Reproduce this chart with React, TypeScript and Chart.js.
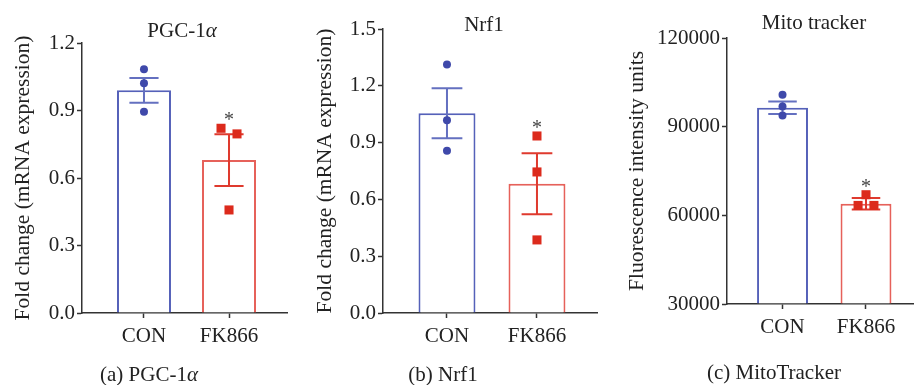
import React, { useEffect, useRef } from 'react';
import { Chart, registerables } from 'chart.js';

Chart.register(...registerables);

// ---------- data ----------
const categories = ['CON', 'FK866'];

const pgcMeans = [0.99, 0.68];
const pgcSem = [0.055, 0.115];
const pgcConPoints = [1.083, 1.021, 0.895];
const pgcFkPoints = [0.821, 0.796, 0.458];
const pgcTicks = [0, 0.3, 0.6, 0.9, 1.2];

const nrfMeans = [1.055, 0.683];
const nrfSem = [0.132, 0.161];
const nrfConPoints = [1.313, 1.018, 0.857];
const nrfFkPoints = [0.935, 0.745, 0.386];
const nrfTicks = [0, 0.3, 0.6, 0.9, 1.2, 1.5];

const mitoMeans = [96400, 63920];
const mitoSem = [2100, 1930];
const mitoConPoints = [100800, 96830, 93790];
const mitoFkPoints = [66970, 63350, 63350];
const mitoTicks = [30000, 60000, 90000, 120000];

const significance = ['', '*'];

// ---------- styles ----------
const FONT = "'Liberation Serif', 'Times New Roman', serif";
const TEXT = '#222222';
const AXIS = '#333333';
const BAR_COLORS = ['#5561b9', '#e6615a'];
const ERR_COLORS = ['#6470c0', '#df3a2e'];
const PT_BLUE = '#3f49aa';
const PT_RED = '#dc2a1c';
const FS = 21;

type Panel = {
  key: string;
  left: number;
  width: number;
  top: number;
  right: number;
  yWidth: number;
  xHeight: number;
  xMin: number;
  xMax: number;
  barPct: number;
  capFrac: number;
  yTitle: string;
  yTitlePad: number;
  yMin: number;
  yMax: number;
  ticks: number[];
  fmt: (v: number) => string;
  means: number[];
  sem: number[];
  conPoints: number[];
  fkPoints: number[];
  conJitter: number[];
  fkJitter: number[];
  base: number;
  title: { parts: [string, boolean][]; x: number; y: number };
  caption: { parts: [string, boolean][]; x: number; y: number };
};

const panels: Panel[] = [
  {
    key: 'a', left: 0, width: 300, top: 43, right: 13, yWidth: 82, xHeight: 72,
    xMin: -0.729, xMax: 1.682, barPct: 0.635, capFrac: 0.54,
    yTitle: 'Fold change (mRNA expression)', yTitlePad: 10,
    yMin: 0, yMax: 1.2, ticks: pgcTicks, fmt: (v) => v.toFixed(1),
    means: pgcMeans, sem: pgcSem, conPoints: pgcConPoints, fkPoints: pgcFkPoints,
    conJitter: [0, 0, 0], fkJitter: [-0.094, 0.094, 0], base: 0,
    title: { parts: [['PGC-1', false], ['α', true]], x: 182, y: 31 },
    caption: { parts: [['(a) PGC-1', false], ['α', true]], x: 149, y: 375 },
  },
  {
    key: 'b', left: 300, width: 305, top: 29, right: 8, yWidth: 83, xHeight: 72,
    xMin: -0.711, xMax: 1.667, barPct: 0.633, capFrac: 0.54,
    yTitle: 'Fold change (mRNA expression)', yTitlePad: 12,
    yMin: 0, yMax: 1.5, ticks: nrfTicks, fmt: (v) => v.toFixed(1),
    means: nrfMeans, sem: nrfSem, conPoints: nrfConPoints, fkPoints: nrfFkPoints,
    conJitter: [0, 0, 0], fkJitter: [0, 0, 0], base: 0,
    title: { parts: [['Nrf1', false]], x: 184, y: 25 },
    caption: { parts: [['(b) Nrf1', false]], x: 143, y: 375 },
  },
  {
    key: 'c', left: 605, width: 309, top: 38, right: 0, yWidth: 122, xHeight: 81,
    xMin: -0.665, xMax: 1.575, barPct: 0.61, capFrac: 0.56,
    yTitle: 'Fluorescence intensity units', yTitlePad: 19,
    yMin: 30000, yMax: 120000, ticks: mitoTicks, fmt: (v) => String(v),
    means: mitoMeans, sem: mitoSem, conPoints: mitoConPoints, fkPoints: mitoFkPoints,
    conJitter: [0, 0, 0], fkJitter: [0, -0.095, 0.095], base: 30000,
    title: { parts: [['Mito tracker', false]], x: 209, y: 23 },
    caption: { parts: [['(c) MitoTracker', false]], x: 169, y: 373 },
  },
];

function drawParts(ctx: CanvasRenderingContext2D, parts: [string, boolean][], cx: number, cy: number) {
  ctx.save();
  ctx.fillStyle = TEXT;
  ctx.textBaseline = 'middle';
  ctx.textAlign = 'left';
  const widths = parts.map(([t, it]) => {
    ctx.font = `${it ? 'italic ' : ''}${FS}px ${FONT}`;
    return ctx.measureText(t).width;
  });
  const total = widths.reduce((a, b) => a + b, 0);
  let x = cx - total / 2;
  parts.forEach(([t, it], i) => {
    ctx.font = `${it ? 'italic ' : ''}${FS}px ${FONT}`;
    ctx.fillText(t, x, cy);
    x += widths[i];
  });
  ctx.restore();
}

function makeExtras(p: Panel) {
  return {
    id: 'extras_' + p.key,
    afterDatasetDraw(chart: any, args: any) {
      if (args.meta.type !== 'bar') return;
      const ctx = chart.ctx as CanvasRenderingContext2D;
      const xs = chart.scales.x;
      const ys = chart.scales.y;
      ctx.save();
      ctx.lineWidth = 2;
      categories.forEach((_, i) => {
        const bar = args.meta.data[i];
        const x = xs.getPixelForValue(i);
        const yt = ys.getPixelForValue(p.means[i] + p.sem[i]);
        const yb = ys.getPixelForValue(p.means[i] - p.sem[i]);
        const half = (bar.width * p.capFrac) / 2;
        ctx.strokeStyle = ERR_COLORS[i];
        ctx.beginPath();
        ctx.moveTo(x, yt);
        ctx.lineTo(x, yb);
        ctx.moveTo(x - half, yt);
        ctx.lineTo(x + half, yt);
        ctx.moveTo(x - half, yb);
        ctx.lineTo(x + half, yb);
        ctx.stroke();
      });
      ctx.restore();
    },
    afterDraw(chart: any) {
      const ctx = chart.ctx as CanvasRenderingContext2D;
      const xs = chart.scales.x;
      const ys = chart.scales.y;
      const pts = [p.conPoints, p.fkPoints];
      significance.forEach((s, i) => {
        if (!s) return;
        const topVal = Math.max(p.means[i] + p.sem[i], ...pts[i]);
        const y = ys.getPixelForValue(topVal) - 13;
        ctx.save();
        ctx.fillStyle = '#444444';
        ctx.font = `20px ${FONT}`;
        ctx.textAlign = 'center';
        ctx.textBaseline = 'alphabetic';
        ctx.fillText(s, xs.getPixelForValue(i), y + 11);
        ctx.restore();
      });
      drawParts(ctx, p.title.parts, p.title.x, p.title.y);
      drawParts(ctx, p.caption.parts, p.caption.x, p.caption.y);
    },
  };
}

function makeChart(canvas: HTMLCanvasElement, p: Panel) {
  const font = { family: FONT, size: FS, lineHeight: 1.2 };
  const titleFont = { family: FONT, size: 21.5, lineHeight: 1.2 };
  const gridY = {
    display: true,
    drawOnChartArea: false,
    drawTicks: true,
    tickLength: 5,
    tickWidth: 1.5,
    tickColor: AXIS,
    offset: false,
  };
  const gridX = { ...gridY };
  const border = { display: true, color: AXIS, width: 1.5 };
  return new Chart(canvas, {
    type: 'bar',
    data: {
      datasets: [
        {
          type: 'bar',
          data: categories.map((_, i) => ({ x: i, y: p.means[i] })),
          backgroundColor: '#ffffff',
          borderColor: BAR_COLORS,
          borderWidth: 2,
          barPercentage: p.barPct,
          categoryPercentage: 1,
          base: p.base,
          order: 3,
        } as any,
        {
          type: 'scatter',
          data: p.conPoints.map((v, k) => ({ x: 0 + p.conJitter[k], y: v })),
          pointStyle: 'circle',
          pointRadius: 4,
          backgroundColor: PT_BLUE,
          borderColor: PT_BLUE,
          borderWidth: 0,
          order: 1,
        } as any,
        {
          type: 'scatter',
          data: p.fkPoints.map((v, k) => ({ x: 1 + p.fkJitter[k], y: v })),
          pointStyle: 'rect',
          pointRadius: 6.4,
          backgroundColor: PT_RED,
          borderColor: PT_RED,
          borderWidth: 0,
          order: 1,
        } as any,
      ],
    },
    options: {
      animation: false,
      responsive: false,
      devicePixelRatio: 1,
      layout: { autoPadding: false, padding: { left: 0, top: p.top, right: p.right, bottom: 0 } },
      plugins: { legend: { display: false }, tooltip: { enabled: false }, title: { display: false } },
      scales: {
        x: {
          type: 'linear',
          offset: false,
          min: p.xMin,
          max: p.xMax,
          afterBuildTicks: (s: any) => {
            s.ticks = categories.map((_, i) => ({ value: i }));
          },
          afterFit: (s: any) => {
            s.height = p.xHeight;
            s.paddingLeft = 0;
            s.paddingRight = 0;
          },
          ticks: {
            callback: (v: any) => categories[v as number] ?? '',
            font,
            color: TEXT,
            padding: 6,
            maxRotation: 0,
            autoSkip: false,
          },
          grid: gridX,
          border,
        },
        y: {
          type: 'linear',
          min: p.yMin,
          max: p.yMax,
          afterBuildTicks: (s: any) => {
            s.ticks = p.ticks.map((v) => ({ value: v }));
          },
          afterFit: (s: any) => {
            s.width = p.yWidth;
          },
          ticks: {
            callback: (v: any) => p.fmt(Number(v)),
            font,
            color: TEXT,
            padding: 2,
            autoSkip: false,
          },
          grid: gridY,
          border,
          title: {
            display: true,
            text: p.yTitle,
            font: titleFont,
            color: TEXT,
            padding: { top: p.yTitlePad, bottom: 0 },
          },
        },
      },
    } as any,
    plugins: [makeExtras(p)],
  });
}

function PanelChart({ p }: { p: Panel }) {
  const ref = useRef<HTMLCanvasElement | null>(null);
  useEffect(() => {
    if (!ref.current) return;
    const chart = makeChart(ref.current, p);
    return () => chart.destroy();
  }, [p]);
  return (
    <canvas
      ref={ref}
      width={p.width}
      height={385}
      style={{ position: 'absolute', left: p.left, top: 0, width: p.width, height: 385, display: 'block' }}
    />
  );
}

export default function App() {
  return (
    <div style={{ position: 'fixed', left: 0, top: 0, width: 914, height: 385, background: '#ffffff', overflow: 'hidden' }}>
      {panels.map((p) => (
        <PanelChart key={p.key} p={p} />
      ))}
    </div>
  );
}
